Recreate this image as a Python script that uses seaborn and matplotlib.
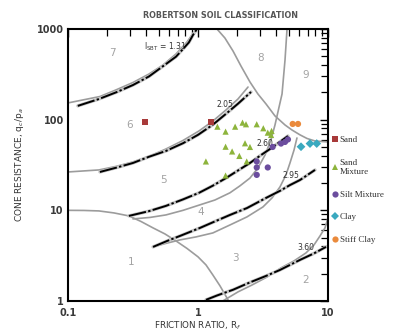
import matplotlib
matplotlib.use("Agg")
import matplotlib.pyplot as plt
import seaborn as sns
import pandas as pd

sns.set_style("white")
plt.rcParams['font.family'] = ['DejaVu Sans']

# soil samples (friction ratio %, normalised cone resistance)
sand_fr = [0.39, 1.26]
sand_q = [94, 94]
sandmix_fr = [1.41, 1.63, 1.93, 2.20, 2.34, 2.83, 3.18, 3.44, 3.68, 3.65,
              1.63, 1.83, 2.30, 2.51, 2.08, 2.37, 1.15, 1.63]
sandmix_q = [83.7, 73.8, 83.7, 92.7, 89, 89, 80.4, 71.9, 75.1, 67.8,
             50.3, 44.6, 54.9, 50, 39.8, 34.6, 34.6, 24.2]
silt_fr = [2.83, 2.83, 3.44, 2.83, 3.75, 4.35, 4.67, 4.92]
silt_q = [34.6, 29.7, 29.7, 24.6, 50, 54.5, 56.8, 60.5]
clay_fr = [6.2, 7.27, 8.19]
clay_q = [50.3, 54.5, 54.5]
stiff_fr = [5.35, 5.88]
stiff_q = [89.7, 89.7]

# zone boundaries
zone1_fr = [0.1, 0.133, 0.173, 0.226, 0.294, 0.364, 0.451, 0.557, 0.677, 0.823, 1.0,
            1.152, 1.30, 1.476, 1.67, 1.72]
zone1_q = [10.0, 9.97, 9.85, 9.36, 8.68, 7.54, 6.40, 5.49, 4.60, 3.80, 3.07,
           2.50, 1.94, 1.47, 1.08, 1.0]
zone2_fr = [1.55, 2.03, 2.60, 3.40, 4.35, 5.48, 6.77, 7.80, 8.68, 9.48, 10.0]
zone2_q = [1.0, 1.26, 1.50, 1.84, 2.32, 2.77, 3.39, 4.15, 5.22, 6.40, 8.25]
zone34_fr = [5.77, 5.48, 5.10, 4.75, 4.27, 3.71, 3.16, 2.38, 1.763, 1.30, 0.965,
             0.727, 0.567, 0.451]
zone34_q = [62.8, 46.3, 33.3, 24.6, 18.1, 13.7, 10.9, 8.46, 6.90, 5.63, 5.09,
            4.72, 4.32, 3.95]
zone45_fr = [4.84, 4.67, 4.43, 3.91, 3.64, 3.28, 2.89, 2.51, 2.10, 1.76, 1.35,
             1.036, 0.767, 0.567, 0.427, 0.316]
zone45_q = [1000, 455, 192, 87.4, 59.7, 40.8, 29.3, 22.7, 18.6, 15.6, 13.0,
            11.5, 10.0, 8.9, 8.35, 8.04]
zone56_fr = [0.1, 0.173, 0.234, 0.316, 0.427, 0.567, 0.767, 1.018, 1.304, 1.642, 2.03, 2.425]
zone56_q = [26.5, 27.9, 30.5, 34.2, 39.8, 47.5, 59.0, 75.1, 96.8, 128, 169, 229]
zone67_fr = [0.1, 0.13, 0.176, 0.234, 0.316, 0.42, 0.538, 0.677, 0.823, 0.965]
zone67_q = [153, 165, 180, 213, 257, 319, 401, 530, 719, 1000]
zone89_fr = [1.40, 1.61, 1.859, 2.14, 2.512, 2.89, 3.336, 3.91, 4.67, 5.28, 6.09,
             6.90, 7.94, 10.0]
zone89_q = [1000, 796, 572, 391, 260, 192, 149, 110, 87.4, 77, 68, 62.0, 58.2, 56.8]

# I_SBT contours
isbt131_fr = [0.119, 0.173, 0.234, 0.316, 0.42, 0.567, 0.677, 0.767, 0.85, 0.915, 0.982]
isbt131_q = [142, 169, 200, 241, 300, 411, 495, 602, 710, 859, 1000]
isbt205_fr = [0.176, 0.234, 0.316, 0.42, 0.567, 0.767, 1.0, 1.3, 1.642, 2.03, 2.557]
isbt205_q = [26.5, 29.5, 33.3, 39.0, 45.2, 55.0, 68, 88, 116, 150, 202]
isbt260_fr = [0.294, 0.42, 0.567, 0.767, 1.018, 1.3, 1.642, 2.03, 2.512, 3.0, 3.58, 4.2, 4.92]
isbt260_q = [8.68, 9.8, 11.2, 13.2, 15.6, 18.7, 22.7, 27.5, 33.3, 40, 47.5, 56, 66.1]
isbt295_fr = [0.451, 0.58, 0.727, 1.036, 1.35, 1.763, 2.382, 3.336, 4.27, 5.1, 6.09, 7.94]
isbt295_q = [3.95, 4.6, 5.22, 6.40, 7.55, 8.9, 10.6, 13.7, 16.4, 19.0, 21.6, 27.9]
isbt360_fr = [1.152, 1.4, 1.859, 2.5, 3.336, 4.27, 5.1, 6.09, 7.8, 9.65]
isbt360_q = [1.03, 1.15, 1.33, 1.6, 1.89, 2.20, 2.5, 2.84, 3.35, 3.95]

zone_names = ["1", "2", "3", "4", "5", "6", "7", "8", "9"]
zone_fr = [0.305, 6.69, 1.94, 1.05, 0.541, 0.30, 0.218, 3.05, 6.77]
zone_q = [2.70, 1.70, 2.99, 9.5, 21.8, 86.7, 544, 483, 309]

isbt_labels = [r"I$_{\rm SBT}$ = 1.31", "2.05", "2.60", "2.95", "3.60"]
isbt_lab_fr = [0.385, 1.40, 2.83, 4.48, 5.85]
isbt_lab_q = [632, 148, 55, 24.1, 3.85]

soil_types = ["Sand", "Sand\nMixture", "Silt Mixture", "Clay", "Stiff Clay"]
soil_colors = ["#a83a3a", "#8db43c", "#6b4d9e", "#3aa9bf", "#ea8a3c"]
soil_markers = ["s", "^", "o", "D", "o"]

frames = []
for name, fr, q in zip(soil_types,
                       [sand_fr, sandmix_fr, silt_fr, clay_fr, stiff_fr],
                       [sand_q, sandmix_q, silt_q, clay_q, stiff_q]):
    frames.append(pd.DataFrame({"Fr": fr, "Q": q, "soil": name}))
df = pd.concat(frames, ignore_index=True)

fig = plt.figure(figsize=(4, 3.33), dpi=100)
ax = fig.add_axes([0.17, 0.0961, 0.65, 0.8168])
ax.set_xscale("log")
ax.set_yscale("log")

gray = "#9c9c9c"
for fr, q in [(zone1_fr, zone1_q), (zone2_fr, zone2_q), (zone34_fr, zone34_q),
              (zone45_fr, zone45_q), (zone56_fr, zone56_q), (zone67_fr, zone67_q),
              (zone89_fr, zone89_q)]:
    ax.plot(fr, q, color=gray, lw=1.2, zorder=1, solid_joinstyle="round")

for fr, q in [(isbt131_fr, isbt131_q), (isbt205_fr, isbt205_q), (isbt260_fr, isbt260_q),
              (isbt295_fr, isbt295_q), (isbt360_fr, isbt360_q)]:
    ax.plot(fr, q, color="#c4c4c4", lw=2.4, zorder=2, solid_joinstyle="round")
    ax.plot(fr, q, color="black", lw=1.4, ls=(0, (9, 1.2, 1.2, 1.2)), zorder=3)

for t, x, y in zip(zone_names, zone_fr, zone_q):
    ax.text(x, y, t, color="#a3a3a3", fontsize=7.5, ha="center", va="center")
for t, x, y in zip(isbt_labels, isbt_lab_fr, isbt_lab_q):
    ax.text(x, y, t, color="#333333", fontsize=5.5, ha="left", va="center")

sns.scatterplot(data=df, x="Fr", y="Q", hue="soil", style="soil",
                palette=dict(zip(soil_types, soil_colors)),
                markers=dict(zip(soil_types, soil_markers)),
                hue_order=soil_types, style_order=soil_types,
                s=20, linewidth=0, ax=ax, zorder=5)

ax.set_xlim(0.1, 10)
ax.set_ylim(1, 1000)
ax.set_xticks([0.1, 1, 10])
ax.set_xticklabels(["0.1", "1", "10"])
ax.set_yticks([1, 10, 100, 1000])
ax.set_yticklabels(["1", "10", "100", "1000"])
ax.tick_params(which="both", direction="in", top=True, right=True, color="black")
ax.tick_params(which="major", length=6, width=1.0, labelsize=7, labelcolor="#3a3a3a")
ax.tick_params(axis="x", which="major", pad=5)
ax.tick_params(axis="y", which="major", pad=3)
ax.tick_params(which="minor", length=5, width=0.9)
for lab in ax.get_xticklabels() + ax.get_yticklabels():
    lab.set_fontweight("bold")
for sp in ax.spines.values():
    sp.set_linewidth(1.5)
    sp.set_color("black")

ax.set_xlabel(r"FRICTION RATIO, R$_f$", fontsize=6.3, color="#333333", labelpad=1)
ax.set_ylabel(r"CONE RESISTANCE, q$_c$/p$_a$", fontsize=6.5, color="#333333", labelpad=8)
fig.text(220 / 400, 1 - 16 / 333, "ROBERTSON SOIL CLASSIFICATION", fontsize=5.8,
         fontweight="bold", color="#555555", ha="center", va="center")

sns.move_legend(ax, "upper left", bbox_to_anchor=(1.0, 0.62), frameon=False, title=None,
                prop={"family": "Liberation Serif", "size": 6.5}, labelspacing=1.6,
                handletextpad=0.1, handlelength=0.8, borderaxespad=0)
for t in ax.get_legend().get_texts():
    t.set_color("#333333")

fig.savefig("out.png", dpi=100)
